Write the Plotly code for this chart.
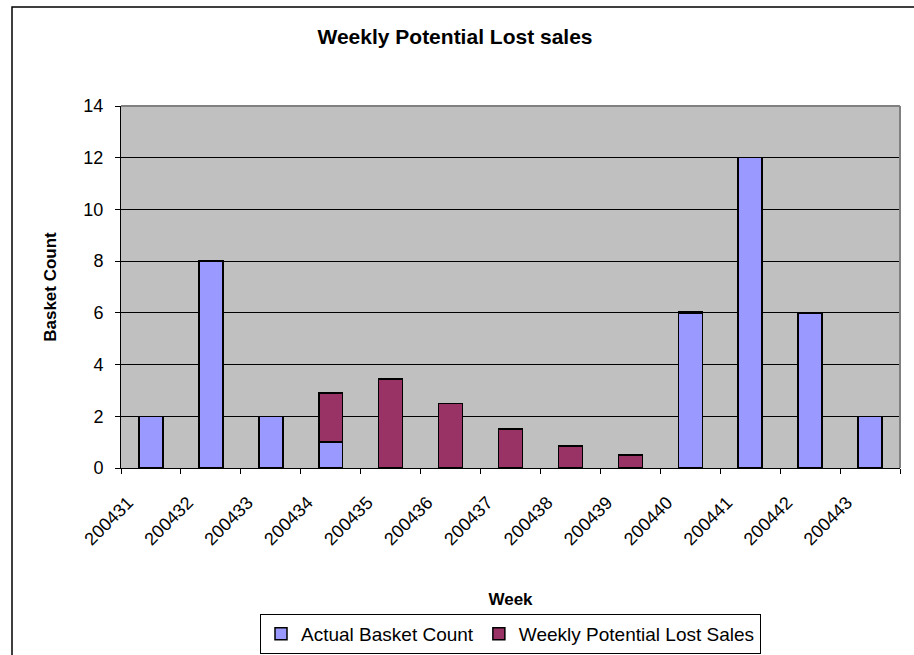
import plotly.graph_objects as go

weeks = ["200431", "200432", "200433", "200434", "200435", "200436", "200437",
         "200438", "200439", "200440", "200441", "200442", "200443"]
actual_basket = [2, 8, 2, 1, None, None, None, None, None, 6, 12, 6, 2]
lost_sales = [None, None, None, 1.9, 3.45, 2.5, 1.5, 0.85, 0.5, 0.06, None, None, None]

FONT = "Liberation Sans, Arial, sans-serif"
W, H = 914, 655
L, R, T, B = 121, 14, 106, 187
pw, ph = W - L - R, H - T - B

def px(x):
    return (x - L) / pw

def py(y):
    return (H - B - y) / ph

fig = go.Figure()
fig.add_trace(go.Bar(x=weeks, y=actual_basket, name="Actual Basket Count",
                     marker=dict(color="#9999FF", line=dict(color="black", width=1.5))))
fig.add_trace(go.Bar(x=weeks, y=lost_sales, name="Weekly Potential Lost Sales",
                     marker=dict(color="#993366", line=dict(color="black", width=1.5))))

fig.update_layout(
    width=W, height=H,
    margin=dict(l=L, r=R, t=T, b=B, autoexpand=False),
    paper_bgcolor="white",
    plot_bgcolor="#C0C0C0",
    barmode="stack",
    bargap=0.6,
    font=dict(family=FONT, color="black", size=18),
    title=dict(text="<b>Weekly Potential Lost sales</b>", x=455 / W, xanchor="center",
               y=1 - 37 / H, yanchor="middle", xref="container", yref="container",
               font=dict(size=21, family=FONT)),
    showlegend=True,
    legend=dict(orientation="h", x=0.5, xanchor="center", y=py(614), yanchor="top",
                bordercolor="black", borderwidth=1, bgcolor="white",
                font=dict(size=19, family=FONT), traceorder="normal",
                itemwidth=30),
    xaxis=dict(type="category", tickson="boundaries", ticks="outside", ticklen=5,
               tickcolor="black", tickangle=-45, showline=True, linecolor="black",
               linewidth=1, showgrid=False, tickfont=dict(size=18),
               ticklabelstandoff=16, ticklabelshift=-23,
               title=dict(text="<b>Week</b>", standoff=44, font=dict(size=17))),
    yaxis=dict(range=[0, 14], dtick=2, ticks="outside", ticklen=5, tickcolor="black",
               showline=True, linecolor="black", linewidth=1, showgrid=True,
               gridcolor="black", gridwidth=1, zeroline=False, tickfont=dict(size=18),
               ticklabelstandoff=8,
               title=dict(text="<b>Basket Count</b>", standoff=22, font=dict(size=17))),
    shapes=[
        dict(type="line", xref="paper", yref="paper", x0=0, x1=1, y0=1, y1=1,
             line=dict(color="#808080", width=2)),
        dict(type="line", xref="paper", yref="paper", x0=1, x1=1, y0=0, y1=1,
             line=dict(color="#808080", width=2)),
        dict(type="rect", xref="paper", yref="paper", x0=px(12), x1=1.2,
             y0=-0.8, y1=py(7), line=dict(color="black", width=1.5)),
    ],
)

fig.write_html("out.html")
